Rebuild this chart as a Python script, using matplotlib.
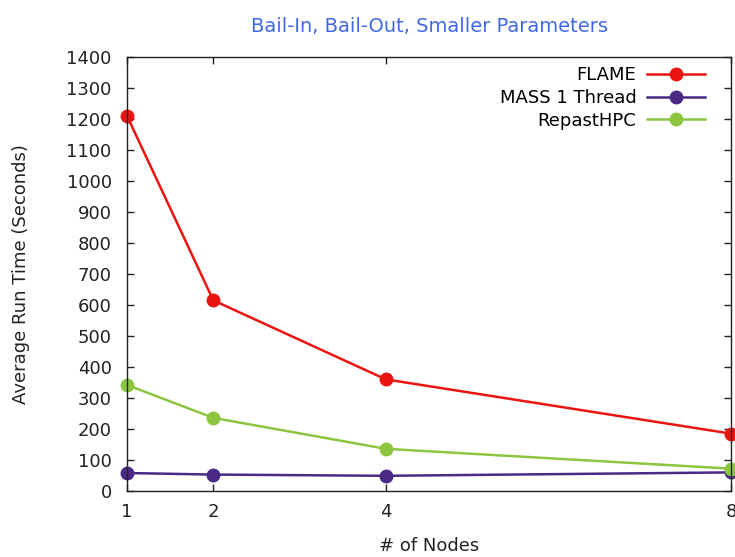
import matplotlib.pyplot as plt

nodes = [1, 2, 4, 8]
flame = [1210, 615, 360, 185]
mass_1thread = [58, 53, 49, 60]
repast_hpc = [342, 236, 136, 72]

plt.rcParams['font.family'] = 'DejaVu Sans'

fig = plt.figure(figsize=(7.35, 5.57), dpi=100)
ax = fig.add_axes([0.1728, 0.1185, 0.8218, 0.7792])

style = dict(marker='o', markersize=9, linewidth=1.8, clip_on=False)
ax.plot(nodes, flame, color='#ea1410', label='FLAME', **style)
ax.plot(nodes, mass_1thread, color='#4b2a86', label='MASS 1 Thread', **style)
ax.plot(nodes, repast_hpc, color='#8cc540', label='RepastHPC', **style)

ax.set_xlim(1, 8)
ax.set_ylim(0, 1400)
ax.set_xticks(nodes)
ax.set_yticks(range(0, 1401, 100))
ax.tick_params(direction='in', top=True, right=True, labelsize=13,
               colors='#222222', length=5, width=1, pad=11)
ax.tick_params(axis='x', pad=9)
for s in ax.spines.values():
    s.set_linewidth(1)
    s.set_color('#222222')

ax.set_xlabel('# of Nodes', fontsize=13, color='#222222', labelpad=11)
ax.set_ylabel('Average Run Time (Seconds)', fontsize=13, color='#222222', labelpad=26)
ax.set_title('Bail-In, Bail-Out, Smaller Parameters', fontsize=14,
             color='#4169e1', pad=18)

ax.legend(loc='upper right', frameon=False, markerfirst=False, fontsize=13,
          handlelength=3.2, handletextpad=0.6, labelspacing=0.27,
          borderaxespad=0.1, bbox_to_anchor=(0.972, 1.0))

fig.savefig('out.png', dpi=100)
